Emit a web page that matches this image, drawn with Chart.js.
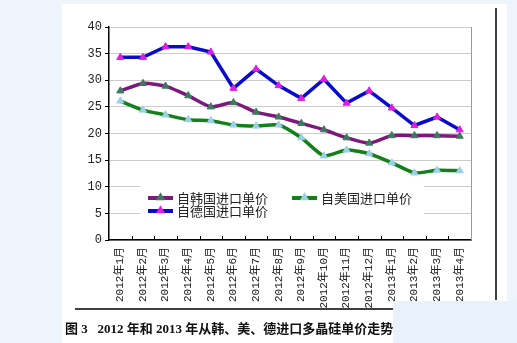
<!DOCTYPE html>
<html>
<head>
<meta charset="utf-8">
<script src="https://cdn.jsdelivr.net/npm/chart.js@4.4.7/dist/chart.umd.min.js"></script>
<style>
  html, body { margin: 0; padding: 0; background: #edf4fc; }
  canvas { display: block; }
</style>
</head>
<body>
<canvas id="chart" width="517" height="343"></canvas>
<script>
const months = [
  "2012年1月", "2012年2月", "2012年3月", "2012年4月", "2012年5月", "2012年6月",
  "2012年7月", "2012年8月", "2012年9月", "2012年10月", "2012年11月", "2012年12月",
  "2013年1月", "2013年2月", "2013年3月", "2013年4月"
]
const koreaPrice = [28.0, 29.4, 28.9, 27.1, 25.0, 25.8, 24.0, 23.1, 21.9, 20.7, 19.2, 18.2, 19.6, 19.6, 19.6, 19.5]
const usaPrice = [26.1, 24.4, 23.5, 22.6, 22.4, 21.6, 21.4, 21.6, 19.2, 15.8, 16.9, 16.2, 14.5, 12.6, 13.1, 13.0]
const germanyPrice = [34.3, 34.3, 36.3, 36.3, 35.3, 28.5, 32.1, 29.0, 26.6, 30.2, 25.7, 28.0, 24.8, 21.5, 23.1, 20.7]
const yTicks = [0, 5, 10, 15, 20, 25, 30, 35, 40]
const caption = "图 3   2012 年和 2013 年从韩、美、德进口多晶硅单价走势图"

const series = [
  { label: "自韩国进口单价", data: koreaPrice, line: "#7b1a7b", mark: "#3d7b5e", tension: 0.2 },
  { label: "自美国进口单价", data: usaPrice, line: "#14801a", mark: "#9ccfea", tension: 0.2 },
  { label: "自德国进口单价", data: germanyPrice, line: "#0a0acc", mark: "#e01ee0", tension: 0 }
]

function triangle(ctx, x, y, r, color) {
  ctx.save()
  ctx.fillStyle = color
  ctx.beginPath()
  ctx.moveTo(x, y - r)
  ctx.lineTo(x + r * 0.95, y + r * 0.7)
  ctx.lineTo(x - r * 0.95, y + r * 0.7)
  ctx.closePath()
  ctx.fill()
  ctx.restore()
}

const pagePlugin = {
  id: "page",
  beforeDraw(chart) {
    const ctx = chart.ctx
    ctx.save()
    ctx.fillStyle = "#edf4fc"
    ctx.fillRect(0, 0, chart.width, chart.height)
    ctx.fillStyle = "#ffffff"
    ctx.fillRect(62, 4, 445, 339)
    ctx.restore()
  },
  afterDraw(chart) {
    const ctx = chart.ctx
    const area = chart.chartArea
    const x = chart.scales.x
    ctx.save()

    // right frame
    ctx.strokeStyle = "#9a9a9a"
    ctx.lineWidth = 1
    ctx.beginPath()
    ctx.moveTo(area.right + 0.5, area.top)
    ctx.lineTo(area.right + 0.5, area.bottom)
    ctx.stroke()

    // inward category ticks
    ctx.strokeStyle = "#000"
    const step = x.getPixelForValue(1) - x.getPixelForValue(0)
    ctx.beginPath()
    for (let i = 1; i < months.length; i++) {
      const px = Math.round(x.getPixelForValue(i) - step / 2) + 0.5
      ctx.moveTo(px, area.bottom)
      ctx.lineTo(px, area.bottom - 4)
    }
    ctx.stroke()

    // legend
    const lx = area.left + 39
    const ly = area.bottom - 42
    ctx.fillStyle = "#ffffff"
    ctx.fillRect(lx - 8, ly - 14, 284, 42)
    const items = [
      { s: series[0], x: lx, y: ly },
      { s: series[1], x: lx + 144, y: ly },
      { s: series[2], x: lx, y: ly + 13 }
    ]
    ctx.font = "13px 'Noto Sans CJK SC'"
    ctx.textBaseline = "middle"
    for (const it of items) {
      ctx.strokeStyle = it.s.line
      ctx.lineWidth = 4
      ctx.beginPath()
      ctx.moveTo(it.x, it.y)
      ctx.lineTo(it.x + 25, it.y)
      ctx.stroke()
      triangle(ctx, it.x + 12.5, it.y - 1, 4.8, it.s.mark)
      ctx.fillStyle = "#222"
      ctx.fillText(it.s.label, it.x + 29, it.y)
    }

    // page lines
    ctx.strokeStyle = "#000"
    ctx.lineWidth = 1.5
    ctx.beginPath()
    ctx.moveTo(496, 8)
    ctx.lineTo(496, 300)
    ctx.moveTo(75, 309)
    ctx.lineTo(400, 309)
    ctx.stroke()

    // caption
    ctx.fillStyle = "#111"
    ctx.font = "bold 13px 'Liberation Serif', 'Noto Sans CJK SC'"
    ctx.textBaseline = "middle"
    ctx.fillText(caption, 65, 330)

    // overlay at bottom right
    ctx.fillStyle = "#e9f1fa"
    ctx.fillRect(393, 301, 124, 42)
    ctx.restore()
  }
}

new Chart(document.getElementById("chart"), {
  type: "line",
  data: {
    labels: months,
    datasets: series.map((s, i) => ({
      label: s.label,
      data: s.data,
      borderColor: s.line,
      backgroundColor: s.mark,
      pointBackgroundColor: s.mark,
      pointBorderColor: s.mark,
      pointStyle: "triangle",
      pointRadius: 4.1,
      pointBorderWidth: 1,
      borderWidth: 3.5,
      tension: s.tension,
      order: 2 - i
    }))
  },
  options: {
    responsive: false,
    animation: false,
    devicePixelRatio: 1,
    layout: { padding: { left: 60, right: 46, top: 27, bottom: 30 } },
    plugins: { legend: { display: false }, tooltip: { enabled: false } },
    scales: {
      x: {
        offset: true,
        grid: { display: false, drawTicks: false },
        border: { display: true, color: "#000", width: 1.5 },
        ticks: {
          color: "#222",
          font: { family: "'Liberation Mono', 'Noto Sans CJK SC'", size: 11 },
          minRotation: 90,
          maxRotation: 90,
          autoSkip: false,
          padding: 7
        },
        afterFit(scale) { scale.height = 73 }
      },
      y: {
        min: 0,
        max: 40,
        afterBuildTicks(scale) { scale.ticks = yTicks.map(v => ({ value: v })) },
        grid: { color: "#cccccc", tickColor: "#000", tickLength: 4 },
        border: { display: true, color: "#000", width: 1.5 },
        ticks: {
          color: "#222",
          font: { family: "'Liberation Mono'", size: 12 },
          padding: 3
        },
        afterFit(scale) { scale.width = 49 }
      }
    }
  },
  plugins: [pagePlugin]
})
</script>
</body>
</html>
